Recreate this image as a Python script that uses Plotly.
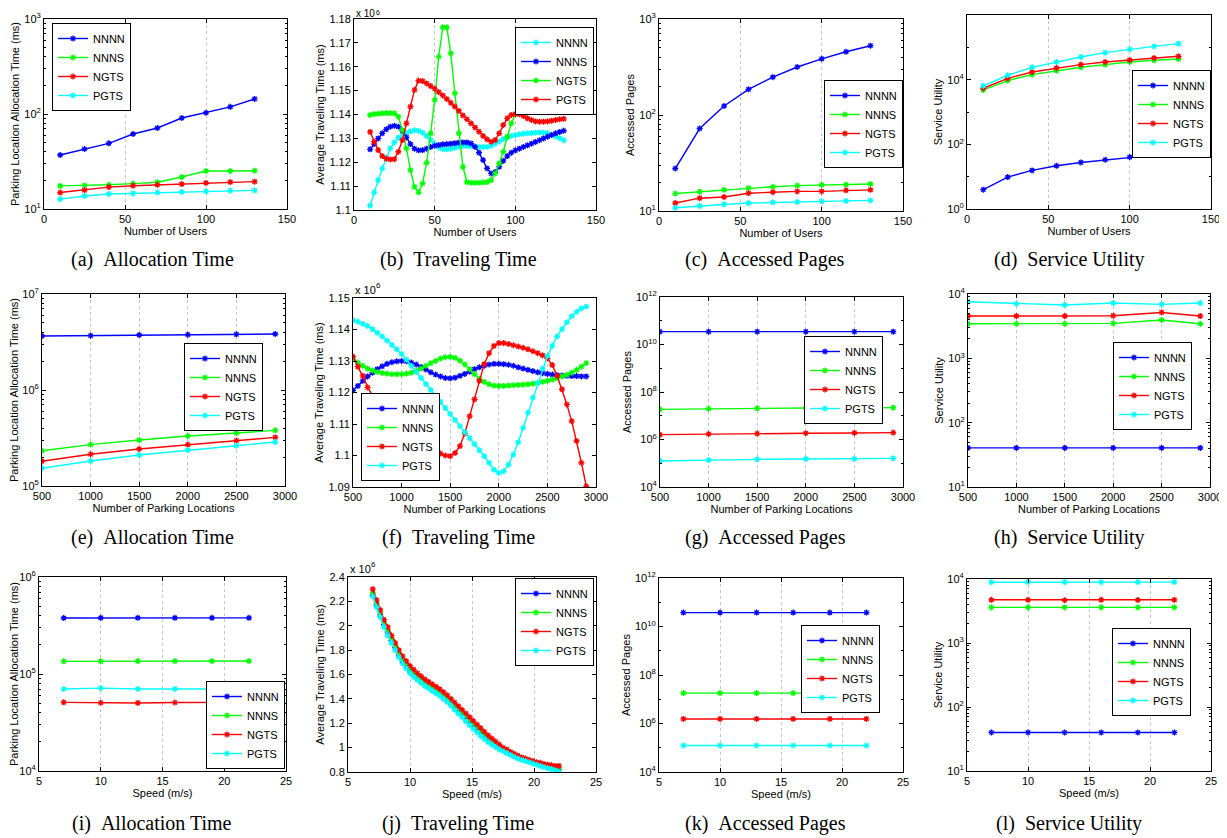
import plotly.graph_objects as go

PAGE_W, PAGE_H = 1227, 838
OFF = 8  # browser body margin
W, H = PAGE_W - OFF, PAGE_H - OFF
BLUE, GREEN, RED, CYAN = "#0000FF", "#00FF00", "#FF0000", "#00FFFF"
NAMES = ["NNNN", "NNNS", "NGTS", "PGTS"]

# ---------------- Row 1: number of users ----------------
users = [10, 25, 40, 55, 70, 85, 100, 115, 130]
a_nnnn = [37.0, 42.8, 49.1, 61.6, 71.2, 90.7, 103, 119, 144]
a_nnns = [17.5, 17.7, 18.0, 18.5, 19.1, 21.7, 25.1, 25.1, 25.3]
a_ngts = [14.9, 15.8, 17.0, 17.6, 18.0, 18.3, 18.8, 19.2, 19.4]
a_pgts = [12.7, 13.7, 14.4, 14.6, 14.9, 15.1, 15.3, 15.6, 15.7]

users_fine = [10 + 2.5 * k for k in range(49)]
b_nnnn = [1.1018, 1.1074, 1.1125, 1.1174, 1.1220, 1.1258, 1.1283, 1.1303, 1.1314, 1.1322,
          1.1329, 1.1334, 1.1332, 1.1324, 1.1310, 1.1293, 1.1276, 1.1262, 1.1255, 1.1254,
          1.1257, 1.1261, 1.1265, 1.1268, 1.1268, 1.1267, 1.1265, 1.1264, 1.1264, 1.1265,
          1.1269, 1.1278, 1.1287, 1.1297, 1.1304, 1.1310, 1.1314, 1.1317, 1.1320, 1.1321,
          1.1322, 1.1324, 1.1325, 1.1324, 1.1321, 1.1315, 1.1308, 1.1301, 1.1292]
b_nnns = [1.1254, 1.1276, 1.1300, 1.1321, 1.1338, 1.1349, 1.1353, 1.1349, 1.1332, 1.1304,
          1.1276, 1.1257, 1.1250, 1.1251, 1.1257, 1.1264, 1.1269, 1.1272, 1.1275, 1.1276,
          1.1278, 1.1280, 1.1282, 1.1283, 1.1283, 1.1279, 1.1265, 1.1240, 1.1209, 1.1174,
          1.1153, 1.1159, 1.1181, 1.1206, 1.1226, 1.1240, 1.1250, 1.1257, 1.1264, 1.1271,
          1.1278, 1.1285, 1.1292, 1.1300, 1.1307, 1.1314, 1.1321, 1.1327, 1.1332]
b_ngts = [1.1398, 1.1402, 1.1403, 1.1405, 1.1406, 1.1406, 1.1405, 1.1391, 1.1335, 1.1258,
          1.1167, 1.1097, 1.1074, 1.1111, 1.1198, 1.1321, 1.1461, 1.1642, 1.1765, 1.1765,
          1.1656, 1.1489, 1.1321, 1.1181, 1.1117, 1.1114, 1.1114, 1.1114, 1.1116, 1.1117,
          1.1125, 1.1153, 1.1195, 1.1244, 1.1307, 1.1363, 1.1401, 1.1409, 1.1415, 1.1417,
          1.1419, 1.1420, 1.1420, 1.1420, 1.1419, 1.1417, 1.1416, 1.1415, 1.1412]
b_pgts = [1.1327, 1.1286, 1.1251, 1.1226, 1.1215, 1.1212, 1.1213, 1.1244, 1.1293, 1.1363,
          1.1433, 1.1503, 1.1542, 1.1540, 1.1530, 1.1519, 1.1508, 1.1494, 1.1480, 1.1465,
          1.1449, 1.1433, 1.1415, 1.1396, 1.1380, 1.1363, 1.1346, 1.1328, 1.1310, 1.1296,
          1.1286, 1.1293, 1.1321, 1.1356, 1.1384, 1.1398, 1.1402, 1.1401, 1.1394, 1.1384,
          1.1377, 1.1371, 1.1370, 1.1370, 1.1371, 1.1374, 1.1377, 1.1380, 1.1382]

c_nnnn = [27.7, 72.3, 124, 185, 248, 316, 385, 456, 527]
c_nnns = [15.2, 15.9, 16.6, 17.3, 17.9, 18.4, 18.7, 18.8, 19.1]
c_ngts = [12.1, 13.6, 14.0, 15.3, 15.7, 16.0, 16.0, 16.4, 16.6]
c_pgts = [10.8, 11.3, 11.7, 12.1, 12.3, 12.4, 12.6, 12.7, 12.9]

d_nnnn = [3.95, 9.7, 15.6, 21.7, 27.5, 33.3, 40.3, 46.4, 51.0]
d_nnns = [4820, 9350, 14300, 19000, 24100, 29200, 35200, 39700, 43600]
d_ngts = [5430, 11000, 17300, 23000, 29200, 35200, 40600, 46900, 52800]
d_pgts = [6410, 13700, 24100, 35200, 50400, 68400, 86700, 107000, 130000]

# ---------------- Row 2: number of parking locations ----------------
locs = [500, 1000, 1500, 2000, 2500, 2900]
e_nnnn = [3.65e6, 3.68e6, 3.74e6, 3.77e6, 3.80e6, 3.83e6]
e_nnns = [2.33e5, 2.70e5, 3.01e5, 3.32e5, 3.56e5, 3.80e5]
e_ngts = [1.81e5, 2.14e5, 2.43e5, 2.70e5, 2.97e5, 3.21e5]
e_pgts = [1.53e5, 1.82e5, 2.10e5, 2.37e5, 2.63e5, 2.87e5]

locs_fine = [500 + 50 * k for k in range(49)]
f_nnnn = [1.1207, 1.1221, 1.1237, 1.1251, 1.1263, 1.1274, 1.1283, 1.1291, 1.1296, 1.1299,
          1.1300, 1.1299, 1.1295, 1.1289, 1.1281, 1.1273, 1.1264, 1.1257, 1.1251, 1.1246,
          1.1245, 1.1247, 1.1253, 1.1259, 1.1266, 1.1274, 1.1280, 1.1285, 1.1289, 1.1291,
          1.1291, 1.1290, 1.1288, 1.1285, 1.1280, 1.1276, 1.1272, 1.1268, 1.1264, 1.1261,
          1.1259, 1.1257, 1.1255, 1.1254, 1.1253, 1.1252, 1.1252, 1.1251, 1.1251]
f_nnns = [1.1306, 1.1295, 1.1285, 1.1276, 1.1270, 1.1265, 1.1262, 1.1260, 1.1258, 1.1258,
          1.1258, 1.1260, 1.1263, 1.1269, 1.1276, 1.1285, 1.1293, 1.1300, 1.1308, 1.1312,
          1.1313, 1.1310, 1.1301, 1.1289, 1.1274, 1.1258, 1.1244, 1.1234, 1.1226, 1.1222,
          1.1221, 1.1221, 1.1222, 1.1223, 1.1224, 1.1225, 1.1226, 1.1228, 1.1230, 1.1234,
          1.1237, 1.1241, 1.1245, 1.1251, 1.1256, 1.1263, 1.1272, 1.1282, 1.1293]
f_ngts = [1.1314, 1.1282, 1.1253, 1.1216, 1.1184, 1.1157, 1.1131, 1.1109, 1.1093, 1.1081,
          1.1070, 1.1059, 1.1051, 1.1042, 1.1035, 1.1028, 1.1021, 1.1014, 1.1006, 1.1000,
          1.0998, 1.1008, 1.1030, 1.1070, 1.1125, 1.1178, 1.1237, 1.1290, 1.1325, 1.1348,
          1.1357, 1.1357, 1.1354, 1.1350, 1.1346, 1.1342, 1.1337, 1.1331, 1.1325, 1.1318,
          1.1308, 1.1287, 1.1253, 1.1210, 1.1162, 1.1109, 1.1046, 1.0977, 1.0902]
f_pgts = [1.1429, 1.1425, 1.1418, 1.1411, 1.1401, 1.1390, 1.1378, 1.1365, 1.1351, 1.1337,
          1.1322, 1.1304, 1.1285, 1.1265, 1.1246, 1.1227, 1.1208, 1.1189, 1.1170, 1.1151,
          1.1132, 1.1113, 1.1093, 1.1074, 1.1055, 1.1036, 1.1017, 1.0998, 1.0977, 1.0955,
          1.0945, 1.0950, 1.0971, 1.1003, 1.1042, 1.1088, 1.1136, 1.1184, 1.1231, 1.1276,
          1.1316, 1.1348, 1.1378, 1.1401, 1.1423, 1.1442, 1.1456, 1.1467, 1.1473]

g_nnnn = [3.47e10, 3.47e10, 3.47e10, 3.47e10, 3.47e10, 3.47e10]
g_nnns = [1.86e7, 1.99e7, 2.05e7, 2.12e7, 2.12e7, 2.19e7]
g_ngts = [1.60e6, 1.71e6, 1.77e6, 1.83e6, 1.89e6, 1.95e6]
g_pgts = [1.24e5, 1.37e5, 1.46e5, 1.52e5, 1.52e5, 1.61e5]

h_nnnn = [40.5, 40.5, 40.5, 40.5, 40.5, 40.5]
h_nnns = [3450, 3450, 3450, 3490, 3940, 3450]
h_ngts = [4540, 4540, 4540, 4600, 5170, 4540]
h_pgts = [7590, 7060, 6730, 7230, 6890, 7230]

# ---------------- Row 3: speed ----------------
speed = [7, 10, 13, 16, 19, 22]
i_nnnn = [3.78e5, 3.79e5, 3.79e5, 3.79e5, 3.79e5, 3.79e5]
i_nnns = [1.35e5, 1.35e5, 1.36e5, 1.36e5, 1.36e5, 1.36e5]
i_ngts = [5.10e4, 5.05e4, 5.03e4, 5.08e4, 5.10e4, 5.10e4]
i_pgts = [7.00e4, 7.15e4, 7.00e4, 7.00e4, 6.98e4, 7.00e4]

speed_fine = [round(7 + 0.3 * k, 1) for k in range(51)]
j_nnnn = [2.25, 2.17, 2.09, 2.01, 1.95, 1.88, 1.82, 1.76, 1.71, 1.67,
          1.63, 1.60, 1.57, 1.545, 1.52, 1.50, 1.48, 1.46, 1.44, 1.415,
          1.39, 1.36, 1.33, 1.30, 1.27, 1.24, 1.21, 1.18, 1.15, 1.12,
          1.095, 1.07, 1.045, 1.02, 1.00, 0.98, 0.965, 0.95, 0.935, 0.92,
          0.91, 0.90, 0.89, 0.88, 0.87, 0.865, 0.855, 0.845, 0.84, 0.83, 0.82]
j_nnns = [2.27, 2.19, 2.11, 2.03, 1.97, 1.90, 1.84, 1.78, 1.73, 1.69,
          1.65, 1.62, 1.59, 1.56, 1.54, 1.52, 1.50, 1.48, 1.46, 1.435,
          1.41, 1.38, 1.35, 1.32, 1.29, 1.26, 1.23, 1.20, 1.17, 1.14,
          1.11, 1.085, 1.06, 1.035, 1.01, 0.99, 0.975, 0.96, 0.945, 0.93,
          0.915, 0.905, 0.895, 0.885, 0.875, 0.868, 0.86, 0.852, 0.845, 0.84, 0.835]
j_ngts = [2.30, 2.21, 2.13, 2.05, 1.99, 1.92, 1.86, 1.80, 1.75, 1.71,
          1.67, 1.64, 1.61, 1.585, 1.56, 1.54, 1.52, 1.50, 1.48, 1.455,
          1.43, 1.40, 1.37, 1.34, 1.31, 1.28, 1.25, 1.22, 1.19, 1.16,
          1.13, 1.10, 1.075, 1.05, 1.025, 1.00, 0.985, 0.965, 0.95, 0.935,
          0.92, 0.91, 0.90, 0.89, 0.88, 0.875, 0.865, 0.86, 0.855, 0.85, 0.85]
j_pgts = [2.24, 2.15, 2.07, 1.99, 1.92, 1.86, 1.80, 1.74, 1.69, 1.65,
          1.61, 1.58, 1.555, 1.53, 1.505, 1.485, 1.465, 1.445, 1.425, 1.40,
          1.375, 1.345, 1.31, 1.28, 1.25, 1.215, 1.185, 1.155, 1.125, 1.095,
          1.07, 1.045, 1.025, 1.005, 0.985, 0.97, 0.955, 0.94, 0.925, 0.91,
          0.90, 0.89, 0.88, 0.87, 0.86, 0.85, 0.84, 0.83, 0.825, 0.815, 0.80]

k_nnnn = [3.75e10, 3.75e10, 3.75e10, 3.75e10, 3.75e10, 3.75e10]
k_nnns = [1.79e7, 1.79e7, 1.79e7, 1.79e7, 1.79e7, 1.79e7]
k_ngts = [1.54e6, 1.54e6, 1.54e6, 1.54e6, 1.54e6, 1.54e6]
k_pgts = [1.24e5, 1.24e5, 1.24e5, 1.24e5, 1.24e5, 1.24e5]

l_nnnn = [40, 40, 40, 40, 40, 40]
l_nnns = [3600, 3600, 3600, 3600, 3600, 3600]
l_ngts = [4730, 4730, 4650, 4730, 4700, 4730]
l_pgts = [8900, 8950, 8950, 8900, 8950, 8950]

SP = "\u00a0\u00a0"
captions = ["(a)" + SP + "Allocation Time", "(b)" + SP + "Traveling Time",
            "(c)" + SP + "Accessed Pages", "(d)" + SP + "Service Utility",
            "(e)" + SP + "Allocation Time", "(f)" + SP + "Traveling Time",
            "(g)" + SP + "Accessed Pages", "(h)" + SP + "Service Utility",
            "(i)" + SP + "Allocation Time", "(j)" + SP + "Traveling Time",
            "(k)" + SP + "Accessed Pages", "(l)" + SP + "Service Utility"]

FONT = "Liberation Sans, Arial, sans-serif"
STD = [BLUE, GREEN, RED, CYAN]
B_COL = [CYAN, BLUE, GREEN, RED]


def px_x(x):
    return (x - OFF) / W


def px_y(y):
    return 1 - (y - OFF) / H


def logticks(lo, hi, step):
    vals = [10 ** p for p in range(lo, hi + 1, step)]
    txt = ["10<sup>%d</sup>" % p for p in range(lo, hi + 1, step)]
    if step == 1:
        minor = [m * 10 ** p for p in range(lo, hi) for m in range(2, 10)]
    else:
        minor = [10 ** p for p in range(lo + 1, hi, step)]
    return vals, txt, minor


# panel definitions: box (left, top, right, bottom) in page px; legend (x, y, xanchor, yanchor)
panels = [
    dict(box=(44, 19, 287, 209), x=users, ys=[a_nnnn, a_nnns, a_ngts, a_pgts], cols=STD,
         xr=[0, 150], xd=50, xt="Number of Users", yt="Parking Location Allocation Time (ms)",
         ylog=(1, 3, 1), leg=(52, 23, "left", "top"), cap=152),
    dict(box=(354, 19, 596, 210), x=users_fine, ys=[b_nnnn, b_nnns, b_ngts, b_pgts], cols=B_COL,
         xr=[0, 150], xd=50, xt="Number of Users", yt="Average Traveling Time (ms)",
         ylin=(1.1, 1.18, 0.01), leg=(594, 27, "right", "top"), cap=458),
    dict(box=(659, 19, 903, 211), x=users, ys=[c_nnnn, c_nnns, c_ngts, c_pgts], cols=STD,
         xr=[0, 150], xd=50, xt="Number of Users", yt="Accessed Pages",
         ylog=(1, 3, 1), leg=(903, 80, "right", "top"), cap=765),
    dict(box=(967, 15, 1211, 209), x=users, ys=[d_nnnn, d_nnns, d_ngts, d_pgts], cols=STD,
         xr=[0, 150], xd=50, xt="Number of Users", yt="Service Utility",
         ylog=(0, 6, 2), leg=(1211, 70, "right", "top"), cap=1069),
    dict(box=(42, 294, 285, 486), x=locs, ys=[e_nnnn, e_nnns, e_ngts, e_pgts], cols=STD,
         xr=[500, 3000], xd=500, xt="Number of Parking Locations", yt="Parking Location Allocation Time (ms)",
         ylog=(5, 7, 1), leg=(263, 343, "right", "top"), cap=152),
    dict(box=(353, 298, 596, 487), x=locs_fine, ys=[f_nnnn, f_nnns, f_ngts, f_pgts], cols=STD,
         xr=[500, 3000], xd=500, xt="Number of Parking Locations", yt="Average Traveling Time (ms)",
         ylin=(1.09, 1.15, 0.01), leg=(361, 481, "left", "bottom"), cap=458),
    dict(box=(660, 297, 903, 487), x=locs, ys=[g_nnnn, g_nnns, g_ngts, g_pgts], cols=STD,
         xr=[500, 3000], xd=500, xt="Number of Parking Locations", yt="Accessed Pages",
         ylog=(4, 12, 2), leg=(883, 336, "right", "top"), cap=765),
    dict(box=(968, 294, 1210, 487), x=locs, ys=[h_nnnn, h_nnns, h_ngts, h_pgts], cols=STD,
         xr=[500, 3000], xd=500, xt="Number of Parking Locations", yt="Service Utility",
         ylog=(1, 4, 1), leg=(1192, 342, "right", "top"), cap=1069),
    dict(box=(39, 577, 286, 771), x=speed, ys=[i_nnnn, i_nnns, i_ngts, i_pgts], cols=STD,
         xr=[5, 25], xd=5, xt="Speed (m/s)", yt="Parking Location Allocation Time (ms)",
         ylog=(4, 6, 1), leg=(285, 769, "right", "bottom"), cap=152),
    dict(box=(348, 577, 596, 772), x=speed_fine, ys=[j_nnnn, j_nnns, j_ngts, j_pgts], cols=STD,
         xr=[5, 25], xd=5, xt="Speed (m/s)", yt="Average Traveling Time (ms)",
         ylin=(0.8, 2.4, 0.2), leg=(594, 578, "right", "top"), cap=458),
    dict(box=(659, 578, 903, 772), x=speed, ys=[k_nnnn, k_nnns, k_ngts, k_pgts], cols=STD,
         xr=[5, 25], xd=5, xt="Speed (m/s)", yt="Accessed Pages",
         ylog=(4, 12, 2), leg=(880, 625, "right", "top"), cap=765),
    dict(box=(967, 579, 1211, 771), x=speed, ys=[l_nnnn, l_nnns, l_ngts, l_pgts], cols=STD,
         xr=[5, 25], xd=5, xt="Speed (m/s)", yt="Service Utility",
         ylog=(1, 4, 1), leg=(1191, 628, "right", "top"), cap=1069),
]

fig = go.Figure()
layout = dict(template="none", width=W, height=H, margin=dict(l=0, r=0, t=0, b=0, autoexpand=False),
              paper_bgcolor="white", plot_bgcolor="white",
              font=dict(family=FONT, size=11, color="black"), showlegend=True)
annotations = []

for i, p in enumerate(panels, start=1):
    sfx = "" if i == 1 else str(i)
    lg = "legend" + sfx
    L, T, R, B = p["box"]
    for name, vals, col in zip(NAMES, p["ys"], p["cols"]):
        fig.add_trace(go.Scatter(
            x=p["x"], y=vals, name=name, mode="lines+markers",
            line=dict(color=col, width=1.4),
            marker=dict(symbol="asterisk-open", size=5, color=col, line=dict(color=col, width=1.3)),
            xaxis="x" + sfx, yaxis="y" + sfx, legend=lg))
    layout["xaxis" + sfx] = dict(
        domain=[px_x(L), px_x(R)], anchor="y" + sfx, range=p["xr"], tick0=p["xr"][0], dtick=p["xd"],
        automargin=False,
        showline=True, linecolor="black", linewidth=1, mirror="ticks",
        ticks="inside", ticklen=4, tickcolor="black",
        showgrid=True, gridcolor="#c4c4c4", griddash="dot", gridwidth=1, zeroline=False,
        tickfont=dict(family=FONT, size=11, color="black"),
        title=dict(text=p["xt"], font=dict(family=FONT, size=11, color="black"), standoff=1))
    ya = dict(
        domain=[px_y(B), px_y(T)], anchor="x" + sfx, automargin=False,
        showline=True, linecolor="black", linewidth=1, mirror="ticks",
        ticks="inside", ticklen=4, tickcolor="black", showgrid=False, zeroline=False,
        tickfont=dict(family=FONT, size=11, color="black"),
        title=dict(text=p["yt"], font=dict(family=FONT, size=11, color="black"), standoff=2))
    if "ylog" in p:
        lo, hi, st = p["ylog"]
        tv, tt, mv = logticks(lo, hi, st)
        ya.update(type="log", range=[lo, hi], tickmode="array", tickvals=tv, ticktext=tt,
                  minor=dict(tickmode="array", tickvals=mv, ticks="inside", ticklen=2,
                             tickcolor="black", showgrid=False))
    else:
        lo, hi, st = p["ylin"]
        ya.update(range=[lo, hi], tick0=lo, dtick=st)
        # "x 10^6" multiplier drawn as base text plus a raised exponent
        if T < 30:
            base_bottom, base_size, exp_top, exp_size, exp_dx = T + 1, 10, 8, 7, 21
        else:
            base_bottom, base_size, exp_top, exp_size, exp_dx = T - 1, 11, T - 18, 8, 22
        annotations.append(dict(text="x 10", xref="paper", yref="paper",
                                x=px_x(L + 1), y=px_y(base_bottom), xanchor="left", yanchor="bottom",
                                borderpad=0, showarrow=False,
                                font=dict(family=FONT, size=base_size, color="black")))
        annotations.append(dict(text="6", xref="paper", yref="paper",
                                x=px_x(L + exp_dx), y=px_y(exp_top), xanchor="left", yanchor="top",
                                borderpad=0, showarrow=False,
                                font=dict(family=FONT, size=exp_size, color="black")))
    layout["yaxis" + sfx] = ya
    lx, ly, xanc, yanc = p["leg"]
    layout[lg] = dict(x=px_x(lx), y=px_y(ly), xanchor=xanc, yanchor=yanc, xref="paper", yref="paper",
                      bgcolor="white", bordercolor="black", borderwidth=1,
                      font=dict(family=FONT, size=11, color="black"), tracegroupgap=0,
                      itemwidth=30)
    cap_y = {0: 259, 1: 537, 2: 823}[(i - 1) // 4]
    annotations.append(dict(text=captions[i - 1], xref="paper", yref="paper",
                            x=px_x(p["cap"]), y=px_y(cap_y), xanchor="center", yanchor="middle",
                            showarrow=False,
                            font=dict(family="Liberation Serif, Times New Roman, serif", size=20, color="black")))

layout["annotations"] = annotations
fig.update_layout(**layout)
fig.write_html("out.html")
